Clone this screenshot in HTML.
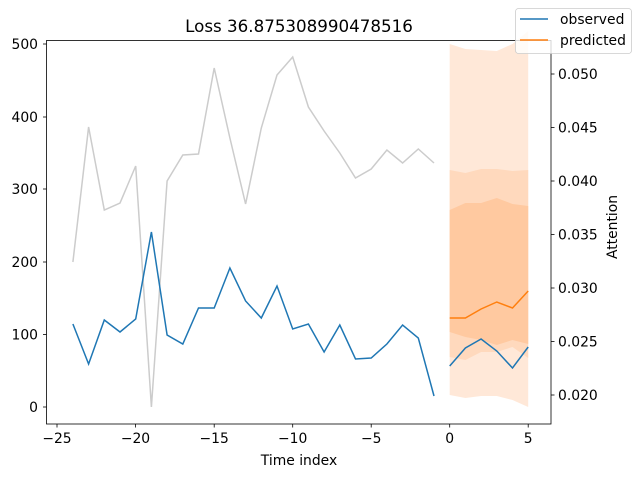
<!DOCTYPE html>
<html><head><style>body{margin:0;background:#fff}svg{display:block}text{font-family:"DejaVu Sans","Liberation Sans",sans-serif;font-size:13.9px;fill:#000}</style></head><body>
<svg width="638" height="478" viewBox="0 0 638 478" xmlns="http://www.w3.org/2000/svg">
<rect width="638" height="478" fill="#fff"/>
<polygon fill="#ffe8d8" points="449.7,44 465.4,49 481.1,50 496.8,51 512.5,44 528.2,31 528.2,407 512.5,400 496.8,396 481.1,396 465.4,398 449.7,395"/>
<polygon fill="#ffd9bd" points="449.7,170 465.4,173 481.1,169 496.8,169 512.5,171 528.2,170 528.2,358 512.5,347 496.8,352 481.1,352 465.4,360 449.7,357"/>
<polygon fill="#ffc9a0" points="449.7,210 465.4,203 481.1,203 496.8,198 512.5,204 528.2,206 528.2,344 512.5,340 496.8,345 481.1,340 465.4,337 449.7,332"/>
<polyline fill="none" stroke="#cccccc" stroke-width="1.5" points="72.9,262 88.6,127 104.3,210 120,203 135.7,166 151.4,407 167.1,181 182.8,155 198.5,154 214.2,68 229.9,138 245.6,204 261.3,128 277,75 292.7,57 308.4,107 324.1,131 339.8,153 355.5,178 371.2,169 386.9,150 402.6,163 418.3,149 434,163"/>
<polyline fill="none" stroke="#1f77b4" stroke-width="1.5" points="72.9,324 88.6,364 104.3,320 120,332 135.7,319 151.4,232 167.1,335 182.8,344 198.5,308 214.2,308 229.9,268 245.6,301 261.3,318 277,286 292.7,329 308.4,324 324.1,352 339.8,325 355.5,359 371.2,358 386.9,344 402.6,325 418.3,338 434,396"/>
<polyline fill="none" stroke="#1f77b4" stroke-width="1.5" points="449.7,366 465.4,348 481.1,339 496.8,351 512.5,368 528.2,347"/>
<polyline fill="none" stroke="#ff7f0e" stroke-width="1.5" points="449.7,318 465.4,318 481.1,309 496.8,302 512.5,308 528.2,291"/>
<rect x="46.5" y="40.5" width="504.5" height="383.5" fill="none" stroke="#000" stroke-width="0.8"/>
<g stroke="#000" stroke-width="0.8">
<line x1="57" y1="424" x2="57" y2="427.5"/><line x1="135.5" y1="424" x2="135.5" y2="427.5"/><line x1="214.2" y1="424" x2="214.2" y2="427.5"/><line x1="292.7" y1="424" x2="292.7" y2="427.5"/><line x1="371.2" y1="424" x2="371.2" y2="427.5"/><line x1="449.7" y1="424" x2="449.7" y2="427.5"/><line x1="528.2" y1="424" x2="528.2" y2="427.5"/>
<line x1="43" y1="407" x2="46.5" y2="407"/><line x1="43" y1="334.5" x2="46.5" y2="334.5"/><line x1="43" y1="262" x2="46.5" y2="262"/><line x1="43" y1="189" x2="46.5" y2="189"/><line x1="43" y1="117" x2="46.5" y2="117"/><line x1="43" y1="44" x2="46.5" y2="44"/>
<line x1="551" y1="395" x2="554.5" y2="395"/><line x1="551" y1="341.5" x2="554.5" y2="341.5"/><line x1="551" y1="288" x2="554.5" y2="288"/><line x1="551" y1="234.5" x2="554.5" y2="234.5"/><line x1="551" y1="181" x2="554.5" y2="181"/><line x1="551" y1="127.5" x2="554.5" y2="127.5"/><line x1="551" y1="74" x2="554.5" y2="74"/>
</g>
<g text-anchor="middle">
<text x="57" y="443">−25</text><text x="135.5" y="443">−20</text><text x="214.2" y="443">−15</text><text x="292.7" y="443">−10</text><text x="371.2" y="443">−5</text><text x="449.7" y="443">0</text><text x="528.2" y="443">5</text>
</g>
<g text-anchor="end">
<text x="38" y="412">0</text><text x="38" y="339.5">100</text><text x="38" y="267">200</text><text x="38" y="194">300</text><text x="38" y="122">400</text><text x="38" y="49">500</text>
</g>
<g>
<text x="558" y="400">0.020</text><text x="558" y="346.5">0.025</text><text x="558" y="293">0.030</text><text x="558" y="239.5">0.035</text><text x="558" y="186">0.040</text><text x="558" y="132.5">0.045</text><text x="558" y="79">0.050</text>
</g>
<text x="299" y="465" text-anchor="middle">Time index</text>
<text transform="translate(617,227) rotate(-90)" text-anchor="middle">Attention</text>
<text x="299" y="32" text-anchor="middle" style="font-size:16.7px">Loss 36.875308990478516</text>
<rect x="515.5" y="8.5" width="116" height="45" rx="3" fill="#fff" fill-opacity="0.8" stroke="#ccc" stroke-width="0.8"/>
<line x1="520" y1="19" x2="548" y2="19" stroke="#1f77b4" stroke-width="1.5"/>
<line x1="520" y1="40" x2="548" y2="40" stroke="#ff7f0e" stroke-width="1.5"/>
<text x="560" y="24">observed</text>
<text x="560" y="45">predicted</text>
</svg>
</body></html>
